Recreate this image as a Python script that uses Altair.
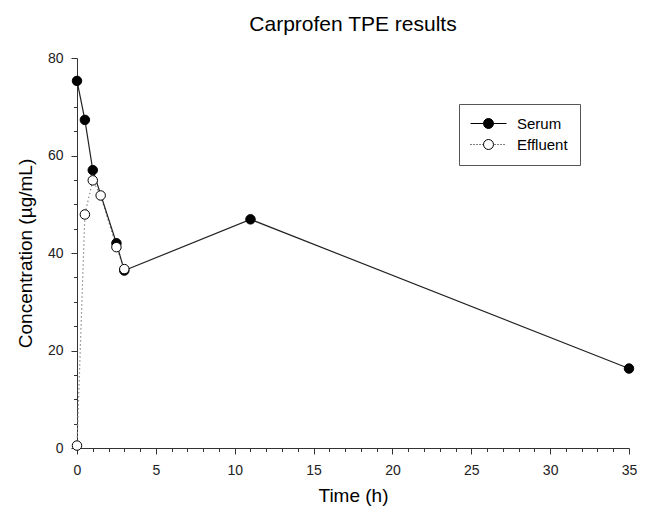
import altair as alt
import pandas as pd

serum_time = [0, 0.5, 1, 2.5, 3, 11, 35]
serum_conc = [75.3, 67.3, 57.0, 42.0, 36.4, 46.9, 16.3]
effluent_time = [0, 0.5, 1, 1.5, 2.5, 3]
effluent_conc = [0.5, 47.9, 54.9, 51.8, 41.2, 36.7]
series_names = ["Serum", "Effluent"]
x_ticks = list(range(0, 36))
y_ticks = list(range(0, 81, 5))

rows = [{"time": t, "conc": c, "series": "Serum"} for t, c in zip(serum_time, serum_conc)]
rows += [{"time": t, "conc": c, "series": "Effluent"} for t, c in zip(effluent_time, effluent_conc)]
df = pd.DataFrame(rows)

FONT = "Liberation Sans"

# legend symbol paths (line + circle); 1 unit = 6 px at symbolSize 144
R = 0.83
L = 3.0
circle = f"M{R},0A{R},{R},0,1,1,{-R},0A{R},{R},0,1,1,{R},0Z"
solid_path = f"M{-L},0L{-R},0M{R},0L{L},0" + circle


def dots(a, b):
    s = ""
    x = a
    while x + 0.17 <= b + 1e-6:
        s += f"M{x:.2f},0L{x + 0.17:.2f},0"
        x += 0.5
    return s


dotted_path = dots(-L, -R) + dots(R + 0.17, L) + circle

x_scale = alt.Scale(domain=[0, 35], nice=False, zero=False)
y_scale = alt.Scale(domain=[0, 80], nice=False)

x_axis = alt.Axis(
    values=x_ticks,
    labelExpr="datum.value % 5 === 0 ? datum.label : ''",
    tickSize=6,
    tickDash={"condition": {"test": "datum.value % 5 === 0", "value": [6, 0]}, "value": [3.5, 10]},
    title="Time (h)",
    labelOverlap=False,
    labelFlush=False,
    labelPadding=9,
    titlePadding=9,
)
y_axis = alt.Axis(
    values=y_ticks,
    labelExpr="datum.value % 20 === 0 ? datum.label : ''",
    tickSize=6,
    tickDash={"condition": {"test": "datum.value % 20 === 0", "value": [6, 0]}, "value": [3.5, 10]},
    title="Concentration (\u00b5g/mL)",
    labelOverlap=False,
    labelFlush=False,
    labelPadding=8,
    titlePadding=12,
)

base = alt.Chart(df)

x_enc = alt.X("time:Q", scale=x_scale, axis=x_axis)
y_enc = alt.Y("conc:Q", scale=y_scale, axis=y_axis)

eff_line = base.transform_filter("datum.series === 'Effluent'").mark_line(
    color="#8a8a8a", strokeWidth=1.2, strokeDash=[1.5, 2.5]
).encode(x=x_enc, y=y_enc)

ser_line = base.transform_filter("datum.series === 'Serum'").mark_line(
    color="#222222", strokeWidth=1.2
).encode(x=x_enc, y=y_enc)

leg = alt.Legend(
    title=None,
    orient="none",
    legendX=382,
    legendY=46,
    strokeColor="#555555",
    padding=12,
    symbolOffset=10,
    symbolSize=144,
    symbolOpacity=1,
    symbolStrokeWidth=1,
    labelOffset=21,
    labelFont=FONT,
    labelFontSize=15,
    labelColor="black",
    rowPadding=5,
)

legend_layer = base.mark_point(filled=True, strokeWidth=1, opacity=0).encode(
    x=x_enc,
    y=y_enc,
    fill=alt.Fill("series:N", scale=alt.Scale(domain=series_names, range=["black", "white"]), legend=leg),
    stroke=alt.Stroke("series:N", scale=alt.Scale(domain=series_names, range=["black", "black"]), legend=leg),
    shape=alt.Shape("series:N", scale=alt.Scale(domain=series_names, range=[solid_path, dotted_path]), legend=leg),
)

points = base.mark_point(filled=True, stroke="black", strokeWidth=1, size=90, opacity=1).encode(
    x=x_enc,
    y=y_enc,
    fill=alt.condition("datum.series === 'Serum'", alt.value("black"), alt.value("white")),
)

chart = (
    alt.layer(legend_layer, eff_line, ser_line, points)
    .properties(
        width=552,
        height=390,
        autosize="none",
        padding={"left": 69, "top": 50, "right": 8, "bottom": 59},
        title=alt.Title(
            "Carprofen TPE results",
            font=FONT,
            fontSize=21,
            fontWeight="normal",
            color="black",
            anchor="middle",
            offset=16,
        ),
    )
    .configure_view(stroke=None)
    .configure_axis(
        grid=False,
        domainColor="#333333",
        tickColor="#333333",
        labelFont=FONT,
        labelFontSize=14,
        labelColor="#222222",
        titleFont=FONT,
        titleFontSize=19,
        titleFontWeight="normal",
        titleColor="black",
    )
)

chart.save("out.html", embed_options={"renderer": "svg", "actions": False})
